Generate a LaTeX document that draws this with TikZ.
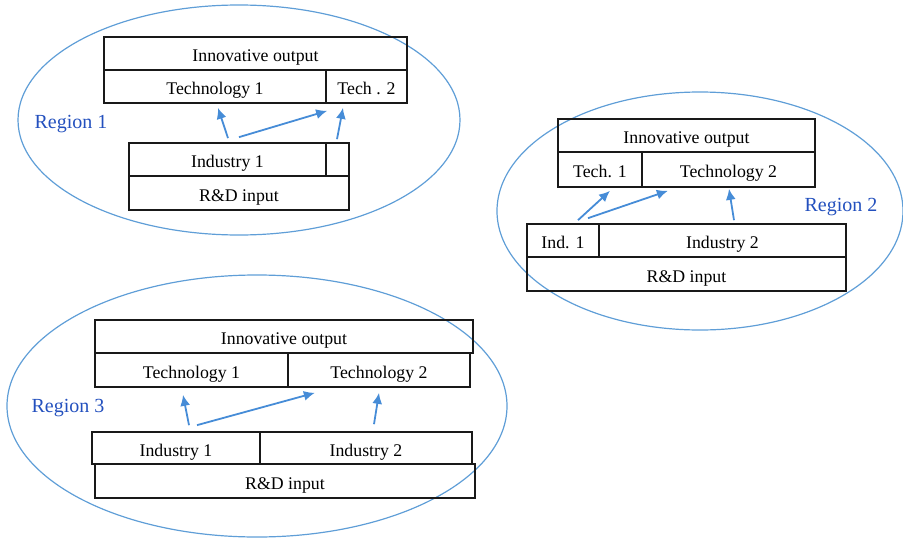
\documentclass[tikz,border=0pt]{standalone}
\usepackage{fontspec}
\setmainfont{Liberation Serif}
\usetikzlibrary{arrows.meta}
\definecolor{ellblue}{RGB}{95,158,215}
\definecolor{lblblue}{RGB}{35,80,190}
\definecolor{arrblue}{RGB}{70,140,215}
\definecolor{boxline}{RGB}{25,25,25}
\tikzset{
  cell/.style={draw=boxline, line width=1.7pt, rectangle, inner sep=0pt, text height=16pt, text depth=0pt, font=\fontsize{17.8}{19}\selectfont},
  reglbl/.style={text=lblblue, font=\fontsize{20}{22}\selectfont, inner sep=0pt},
  arr/.style={draw=arrblue, line width=1.8pt, -{Latex[length=11pt,width=10pt]}}
}
\begin{document}
\begin{tikzpicture}[x=1pt,y=-1pt]
\useasboundingbox (0,0) rectangle (903,541);
% ---------------- Region 1
\draw[ellblue, line width=1.2pt] (239,120) ellipse [x radius=221, y radius=115];
\node[cell, minimum width=303pt, minimum height=33pt] (io1) at (255.5,53.5) {Innovative output};
\node[cell, minimum width=222pt, minimum height=33pt] (t11) at (215,86.5) {Technology 1};
\node[cell, minimum width=81pt, minimum height=33pt] (t12) at (366.5,86.5) {Tech . 2};
\node[cell, minimum width=197pt, minimum height=33pt] (i11) at (227.5,159.5) {Industry 1};
\node[cell, minimum width=23pt, minimum height=33pt] (i12) at (337.5,159.5) {};
\node[cell, minimum width=220pt, minimum height=34pt] (rd1) at (239,193) {R\&D input};
\node[reglbl] (r1) at (71,124) {Region 1};
\draw[arr] ([shift={(0.5,-4)}]i11.north) -- ([shift={(3,4)}]t11.south);
\draw[arr] ([shift={(11.5,-5)}]i11.north) -- ([shift={(2,7)}]t12.south west);
\draw[arr] ([shift={(-0.5,-3)}]i12.north) -- ([shift={(-23.5,4)}]t12.south);
% ---------------- Region 2
\draw[ellblue, line width=1.2pt] (700,211) ellipse [x radius=203, y radius=119];
\node[cell, minimum width=257pt, minimum height=33pt] (io2) at (686.5,135.5) {Innovative output};
\node[cell, minimum width=84pt, minimum height=35pt] (t21) at (600,169.5) {Tech. 1};
\node[cell, minimum width=173pt, minimum height=35pt] (t22) at (728.5,169.5) {Technology 2};
\node[cell, minimum width=72pt, minimum height=33pt] (i21) at (563,240.5) {Ind. 1};
\node[cell, minimum width=247pt, minimum height=33pt] (i22) at (722.5,240.5) {Industry 2};
\node[cell, minimum width=319pt, minimum height=34pt] (rd2) at (686.5,274) {R\&D input};
\node[reglbl] (r2) at (841,207) {Region 2};
\draw[arr] ([shift={(15,-3)}]i21.north) -- ([shift={(10,3)}]t21.south);
\draw[arr] ([shift={(25,-5)}]i21.north) -- ([shift={(25,3)}]t21.south east);
\draw[arr] ([shift={(11.5,-3)}]i22.north) -- ([shift={(0.5,1)}]t22.south);
% ---------------- Region 3
\draw[ellblue, line width=1.2pt] (257,406) ellipse [x radius=250, y radius=131];
\node[cell, minimum width=378pt, minimum height=33pt] (io3) at (284,336.5) {Innovative output};
\node[cell, minimum width=193pt, minimum height=34pt] (t31) at (191.5,370) {Technology 1};
\node[cell, minimum width=182pt, minimum height=34pt] (t32) at (379,370) {Technology 2};
\node[cell, minimum width=168pt, minimum height=32pt] (i31) at (176,448) {Industry 1};
\node[cell, minimum width=212pt, minimum height=32pt] (i32) at (366,448) {Industry 2};
\node[cell, minimum width=380pt, minimum height=34pt] (rd3) at (285,481) {R\&D input};
\node[reglbl] (r3) at (68,408) {Region 3};
\draw[arr] ([shift={(13,-6)}]i31.north) -- ([shift={(-8.5,7)}]t31.south);
\draw[arr] ([shift={(21,-6)}]i31.north) -- ([shift={(26,5)}]t31.south east);
\draw[arr] ([shift={(8,-7)}]i32.north) -- ([shift={(0,5)}]t32.south);
\end{tikzpicture}
\end{document}
